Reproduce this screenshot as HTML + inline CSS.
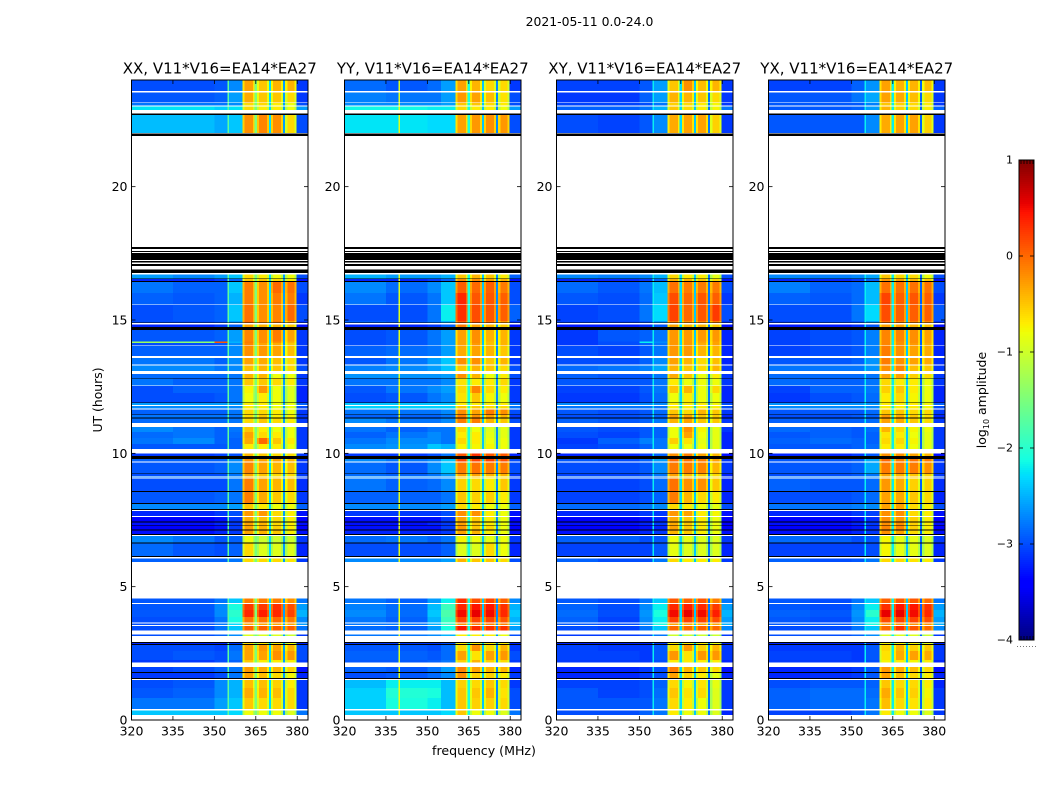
<!DOCTYPE html>
<html lang="en">
<head>
<meta charset="utf-8">
<title>2021-05-11 0.0-24.0 dynamic spectra</title>
<style>
html,body{margin:0;padding:0;background:#fff;}
svg{display:block;font-family:"DejaVu Sans","Liberation Sans",sans-serif;}
</style>
</head>
<body>
<svg id="figure" xmlns="http://www.w3.org/2000/svg" width="1050" height="800" viewBox="0 0 1050 800">
<rect width="1050" height="800" fill="#fff"/>
<text x="589.5" y="26" font-size="12.4" text-anchor="middle" fill="#000">2021-05-11 0.0-24.0</text>
<text x="484" y="755" font-size="12.6" text-anchor="middle" fill="#000">frequency (MHz)</text>
<text x="102" y="400" font-size="12.4" text-anchor="middle" fill="#000" transform="rotate(-90 102 400)">UT (hours)</text>
<text x="986" y="400" font-size="12.5" text-anchor="middle" fill="#000" transform="rotate(-90 986 400)">log<tspan font-size="8" dy="3">10</tspan><tspan dy="-3"> amplitude</tspan></text>
<g id="panels"></g>
<g id="colorbar"></g>
</svg>
<script>
/* ---------- data ---------- */
const panelTitles = ["XX, V11*V16=EA14*EA27","YY, V11*V16=EA14*EA27","XY, V11*V16=EA14*EA27","YX, V11*V16=EA14*EA27"];
const freqTicks = [320,335,350,365,380];
const utTicks = [0,5,10,15,20];
const colorbarTicks = [-4,-3,-2,-1,0,1];
/* frequency bin edges (MHz) for the nine values in each data row */
const binEdges = [320,335,350,355,360.2,365,370,375,379.8,383.9];
/* narrow low-sensitivity channels between sub-bands (MHz), one level per panel */
const gapChannels = [364.6,369.7,374.8];
const gapLevels = [[-1.5,-2.3,-2.6],[-2.1,-2.4,-2.7],[-2.3,-2.4,-2.8],[-2.2,-2.4,-2.9]];
/* band-edge channels of each sub-band: [start MHz, end MHz, row value index] */
const rolloffChannels = [[360.2,361,4],[363.9,364.6,4],[365.4,366.2,5],[369,369.7,5],[370.5,371.3,6],[374.1,374.8,6],[375.6,376.4,7],[379,379.8,7]];
const rolloffDrop = -0.35;
/* persistent interference channel per panel */
const lineChannels = [354.8,339.6,354.8,354.8];
const lineLevels = [-1.7,-0.9,-2.2,-2.2];
/* time rows: upper edges in UT hours and row kind: w = no data, k = zero amplitude, d = data */
const timeEdges = [0,.19,.35,.41,.825,1.2,1.5,1.54,1.58,1.76,1.8,1.99,2.15,2.25,2.59,2.81,2.85,2.89,2.93,3.15,3.21,3.35,3.53,3.57,3.62,3.66,3.86,4.13,4.35,4.39,4.56,5.93,6.06,6.12,6.15,6.61,6.65,6.9,6.94,6.98,7.11,7.14,7.29,7.32,7.41,7.44,7.61,7.65,7.84,7.88,7.91,8.1,8.14,8.55,8.59,9.06,9.1,9.13,9.15,9.23,9.25,9.65,9.69,9.78,9.9,10,10.16,10.35,10.58,10.8,10.98,11.14,11.31,11.34,11.44,11.46,11.65,11.69,11.78,11.81,11.89,11.91,12.26,12.53,12.55,12.8,12.83,12.98,13.09,13.3,13.33,13.58,13.65,14.03,14.05,14.14,14.19,14.63,14.73,14.84,14.88,14.9,14.97,15.56,15.59,16.01,16.43,16.47,16.53,16.56,16.7,16.77,16.89,17.03,17.1,17.15,17.21,17.25,17.51,17.55,17.59,17.66,17.73,21.9,21.99,22.01,22.69,22.74,22.88,23,23.04,23.13,23.16,23.54,23.59,24];
const rowKinds = ["w","d","w","d","d","d","w","k","d","k","d","w","d","d","d","k","d","k","w","d","w","d","w","d","w","d","d","d","w","d","w","d","w","k","d","k","d","w","k","d","k","d","k","d","k","d","w","d","w","k","d","k","d","k","d","w","d","w","d","k","d","w","d","k","d","w","d","d","d","d","w","d","k","d","k","d","w","d","w","d","k","d","d","w","d","k","d","w","d","w","d","w","d","w","d","d","d","k","d","w","k","d","d","w","d","d","k","d","k","d","w","k","w","k","w","k","w","k","w","k","w","k","w","k","w","d","k","w","d","w","d","w","d","w","d"];
/* log10 amplitude per data row: [320-335, 335-350, 350-355, 355-360, sub1, sub2, sub3, sub4, 380-384] */
const xxRows = [
[-2.4,-2.4,-2.4,-2.3,-.8,-.8,-.8,-.9,-2.8],
[-2.8,-2.8,-2.6,-2.4,-.5,-.6,-.6,-.6,-3.1],
[-2.95,-2.9,-2.7,-2.5,-.35,-.4,-.45,-.6,-3.1],
[-3,-2.95,-2.7,-2.5,-.45,-.45,-.55,-.7,-3.1],
[-3.1,-3.1,-3,-2.8,-.3,-.45,-.6,-.75,-3.2],
[-3.05,-3,-2.9,-2.8,-.25,-.35,-.4,-.55,-3.3],
[-3.1,-3.1,-3,-2.9,-.5,-.7,-.7,-.7,-3.1],
[-3,-2.95,-3,-2.8,-.3,-.3,-.2,-.25,-3],
[-3,-3,-3.05,-2.85,-.3,-.25,-.3,-.4,-3],
[-3.2,-3.2,-3.2,-3.1,-.6,-.7,-.7,-.8,-3.2],
[-3,-3,-2.9,-2.7,-.9,-.9,-.9,-1,-3.1],
[-3,-3,-2.8,-2.4,.05,.05,.05,.05,-2.8],
[-3,-3,-2.8,-2.3,-.3,-.3,-.3,-.3,-2.6],
[-3,-3,-2.8,-2.1,-.05,-.05,0,-.1,-2.7],
[-2.95,-2.95,-2.7,-2,.35,.4,.35,.2,-2.5],
[-2.95,-2.95,-2.7,-2.1,.25,.25,.3,.15,-2.6],
[-2.95,-2.95,-2.8,-2.4,-.1,-.1,-.1,-.2,-2.8],
[-2.9,-2.9,-2.9,-2.8,-.6,-.6,-.6,-.65,-3.1],
[-2.85,-2.95,-3,-2.9,-.6,-.9,-.9,-.9,-3.2],
[-2.7,-2.8,-2.95,-2.9,-.8,-1,-1,-1,-3.1],
[-3.3,-3.3,-3.2,-3.1,-.3,-.4,-.5,-.7,-3.3],
[-3.4,-3.4,-3.3,-3.1,-.3,-.4,-.55,-.7,-3.4],
[-3.3,-3.3,-3.2,-3.1,-.3,-.4,-.6,-.7,-3.3],
[-3.4,-3.4,-3.3,-3.1,-.35,-.45,-.6,-.7,-3.4],
[-3.2,-3.2,-3.1,-3,-.25,-.25,-.6,-.7,-3.3],
[-2.7,-2.7,-2.7,-2.6,-.5,-.7,-.8,-.8,-2.9],
[-2.95,-2.95,-2.9,-2.8,-.1,-.35,-.5,-.6,-3.1],
[-3,-3,-3,-2.8,-.1,-.3,-.4,-.45,-3.15],
[-2.8,-2.8,-2.8,-2.7,-.4,-.5,-.6,-.6,-3],
[-3,-3,-3,-2.8,-.35,-.5,-.6,-.6,-3.1],
[-2.95,-2.95,-2.9,-2.7,-.15,-.3,-.4,-.45,-3.1],
[-2.9,-2.9,-2.9,-2.7,-.2,-.3,-.3,-.4,-3.1],
[-3.1,-3.1,-3.05,-3,-.4,-.5,-.6,-.6,-3.1],
[-2.95,-2.95,-2.95,-2.9,-.7,-.7,-.7,-.8,-3.1],
[-2.8,-2.7,-2.9,-2.9,-.35,0,-.5,-.7,-3.1],
[-2.85,-2.8,-2.9,-2.85,-.3,-.6,-.7,-.8,-3.1],
[-2.7,-2.8,-2.9,-2.8,-.5,-.7,-.8,-.8,-3.1],
[-2.85,-2.85,-2.85,-2.8,-.6,-.5,-.6,-.7,-3.1],
[-2.8,-2.8,-2.8,-2.8,-.6,-.5,-.7,-.7,-3.1],
[-2.9,-2.9,-2.9,-2.8,-.6,-.6,-.7,-.8,-3.1],
[-2.7,-2.7,-2.7,-2.7,-.7,-.7,-.8,-.8,-3],
[-2.6,-2.6,-2.6,-2.6,-.7,-.7,-.8,-.8,-2.9],
[-3,-3,-2.95,-2.8,-.8,-.7,-.8,-.9,-3.2],
[-3,-2.9,-2.9,-2.8,-.75,-.25,-.8,-.9,-3.2],
[-2.8,-2.9,-2.9,-2.8,-.5,-.5,-.6,-.7,-3.1],
[-2.85,-2.85,-2.85,-2.8,-.4,-.4,-.8,-.8,-3.1],
[-2.7,-2.7,-2.8,-2.7,-.45,-.4,-.5,-.6,-3],
[-2.8,-2.8,-2.9,-2.7,-.3,-.35,-.45,-.6,-3.1],
[-2.9,-2.9,-2.9,-2.7,-.2,-.25,-.3,-.45,-3.1],
[-3,-3,-2.95,-2.7,-.15,-.3,-.35,-.5,-3.1],
[-1.3,-1.4,.1,-2.5,-.1,-.2,-.2,-.4,-3.1],
[-2.95,-2.95,-2.9,-2.6,-.15,-.2,-.1,-.3,-3.1],
[-3.2,-3.2,-3.1,-2.9,-.3,-.4,-.4,-.5,-3.3],
[-3,-3,-2.95,-2.6,0,-.2,-.1,-.3,-3.1],
[-3,-2.95,-2.9,-2.4,-.05,-.2,-.15,0,-3],
[-2.9,-2.95,-2.9,-2.5,-.1,-.2,-.1,-.1,-3.1],
[-2.8,-2.9,-2.9,-2.4,-.1,-.2,0,-.05,-3],
[-3.2,-3.2,-3.1,-2.9,-.5,-.5,-.6,-.7,-3.3],
[-2.6,-2.7,-2.6,-2.4,-.6,-.7,-.8,-.8,-3],
[-2.45,-2.45,-2.55,-2.4,-.2,-.15,-.2,-.6,-3],
[-2.25,-2.25,-2.35,-2.25,-.6,-.7,-.7,-.8,-2.6],
[-2.8,-2.8,-2.8,-2.7,-.6,-.6,-.7,-.8,-3],
[-2.95,-2.95,-2.9,-2.6,-.35,-.5,-.5,-.6,-3.1],
[-3,-3,-2.95,-2.7,-.3,-.5,-.4,-.4,-3.1]
];
const yyRows = [
[-2.4,-2.4,-2.4,-2.3,-.5,-.8,-.8,-.9,-2.8],
[-2.35,-2.1,-2.2,-2.45,-.5,-.55,-.55,-.6,-3],
[-2.35,-2.05,-2.1,-2.45,-.5,-.5,-.4,-.65,-3],
[-2.45,-2.2,-2.2,-2.45,-.55,-.6,-.5,-.6,-3.1],
[-3,-2.95,-2.85,-2.7,-.2,-.55,-.55,-.7,-3.1],
[-2.9,-2.95,-2.8,-2.6,-.15,-.3,-.4,-.4,-3.2],
[-2.95,-2.95,-2.9,-2.8,-.55,-.4,-.55,-.6,-3.1],
[-2.9,-2.9,-2.95,-2.85,-.3,-.65,-.3,-.25,-3],
[-2.95,-2.95,-3,-2.85,-.6,-.2,-.6,-.4,-3.1],
[-3.1,-3.1,-3.1,-3,-.7,-.7,-.7,-.7,-3.2],
[-2.8,-2.8,-2.7,-2.5,-.7,-.7,-.7,-.8,-3],
[-2.85,-2.9,-2.6,-2.1,.45,.35,.3,.3,-2.6],
[-2.8,-2.8,-2.5,-2,-.2,-.1,-.1,-.1,-2.4],
[-2.8,-2.9,-2.5,-1.9,.2,.2,.2,.1,-2.5],
[-2.7,-2.85,-2.4,-1.8,.5,.55,.5,.35,-2.4],
[-2.75,-2.85,-2.45,-1.9,.35,.45,.45,.3,-2.5],
[-2.8,-2.9,-2.6,-2.2,.3,.15,.2,.05,-2.7],
[-2.7,-2.7,-2.7,-2.6,-.4,-.5,-.5,-.6,-3],
[-3,-3,-3,-2.9,-.9,-.9,-.6,-.8,-3.2],
[-2.85,-2.8,-2.9,-2.8,-.75,-.8,-.85,-.8,-3.1],
[-3.2,-3.2,-3.2,-3.1,-.3,-.4,-.7,-.8,-3.3],
[-3.3,-3.3,-3.3,-3.1,-.25,-.5,-.6,-.8,-3.4],
[-3.3,-3.3,-3.2,-3.1,-.3,-.5,-.7,-.8,-3.3],
[-3.3,-3.3,-3.3,-3.1,-.3,-.5,-.7,-.8,-3.4],
[-3.1,-3.1,-3.1,-3,-.2,-.2,-.7,-.8,-3.3],
[-2.7,-2.7,-2.7,-2.6,-.6,-.7,-.8,-.8,-2.9],
[-2.9,-2.9,-2.9,-2.8,-.5,-.55,-.55,-.7,-3.1],
[-2.8,-2.9,-2.85,-2.7,-.55,-.6,-.7,-.5,-3.1],
[-2.7,-2.7,-2.7,-2.6,-.5,-.5,-.6,-.6,-3],
[-2.85,-2.9,-2.8,-2.6,-.3,-.3,-.4,-.4,-3.1],
[-2.85,-2.95,-2.7,-2.4,-.1,-.05,-.1,-.1,-3],
[-2.7,-2.8,-2.7,-2.4,.2,.2,.2,.15,-3],
[-3.1,-3.1,-3,-2.8,.1,.3,.1,.1,-3.2],
[-2.7,-2.65,-2.4,-2.5,-.75,-.75,-.75,-.8,-3.1],
[-2.8,-2.7,-2.7,-2.8,-.6,-.7,-.8,-.8,-3.1],
[-2.9,-2.8,-2.7,-2.8,-.7,-.7,-.85,-.85,-3.1],
[-2.8,-2.9,-2.8,-2.8,-.6,-.8,-.9,-.85,-3.1],
[-2.7,-2.8,-2.8,-2.7,-.1,-.1,-.4,-.5,-3],
[-2.9,-2.9,-2.9,-2.8,-.1,-.2,-.3,-.4,-3.1],
[-2.8,-2.8,-2.8,-2.7,-.2,-.3,-.1,-.2,-3],
[-2.35,-2.35,-2.35,-2.35,-.5,-.5,-.6,-.6,-2.8],
[-2.4,-2.4,-2.4,-2.4,-.7,-.7,-.7,-.7,-2.8],
[-3,-2.95,-2.8,-2.7,-.65,-.5,-.75,-.8,-3.1],
[-2.95,-2.8,-2.7,-2.6,-.6,-.15,-.6,-.7,-3.1],
[-2.8,-2.8,-2.8,-2.7,-.65,-.7,-.7,-.6,-3.1],
[-2.65,-2.65,-2.65,-2.6,-.2,-.4,-.8,-.7,-3],
[-2.75,-2.7,-2.6,-2.4,-.5,-.4,-.5,-.6,-3],
[-2.95,-2.8,-2.6,-2.4,-.2,-.2,-.5,-.4,-3.1],
[-2.9,-2.85,-2.8,-2.6,-.35,-.3,-.4,-.5,-3.1],
[-3,-2.95,-2.8,-2.6,-.3,-.25,-.45,-.4,-3.1],
[-3,-2.95,-2.8,-2.6,-.3,-.2,-.45,-.4,-3.1],
[-3,-2.95,-2.8,-2.6,-.3,-.2,-.4,-.4,-3.1],
[-3.2,-3.2,-3.1,-2.9,-.1,-.3,-.4,-.5,-3.3],
[-2.9,-2.95,-2.8,-2.5,.1,.1,0,-.2,-3.1],
[-3,-3,-2.8,-2.2,.3,.15,.1,.05,-2.9],
[-2.8,-2.95,-2.8,-2.4,.35,.1,.1,.05,-3],
[-2.7,-2.85,-2.7,-2.4,.05,0,.05,-.1,-3],
[-3.2,-3.2,-3.1,-2.9,-.2,-.2,-.3,-.4,-3.3],
[-2.5,-2.6,-2.6,-2.5,-.5,-.4,-.5,-.7,-2.9],
[-2.25,-2.25,-2.3,-2.3,-.3,-.25,-.2,-.25,-3],
[-2.15,-2.15,-2.2,-2.2,-.6,-.7,-.7,-.8,-2.6],
[-2.7,-2.7,-2.7,-2.6,-.5,-.5,-.6,-.7,-3],
[-2.75,-2.8,-2.8,-2.6,-.25,-.3,-.45,-.65,-3],
[-2.85,-2.95,-2.85,-2.6,-.3,-.4,-.6,-.6,-3.1]
];
const xyRows = [
[-3,-3,-2.9,-2.8,-.7,-.8,-.8,-.9,-3.2],
[-2.95,-2.95,-2.95,-2.8,-.6,-.7,-.8,-.9,-3.1],
[-2.95,-3.05,-3,-2.85,-.5,-.65,-.6,-.9,-3.1],
[-3.05,-3.05,-3,-2.9,-.6,-.75,-.65,-.85,-3.1],
[-3.2,-3.2,-3.1,-3,-.3,-.55,-.7,-.85,-3.2],
[-3.2,-3.2,-3.1,-3,-.1,-.4,-.5,-.6,-3.3],
[-3.1,-3.1,-3.1,-3,-.7,-.7,-.7,-.7,-3.2],
[-3.05,-3.05,-3.1,-2.95,-.25,-.65,-.25,-.25,-3.1],
[-3.05,-3.1,-3.1,-2.95,-.6,-.25,-.55,-.4,-3.1],
[-3.2,-3.2,-3.2,-3.1,-.7,-.7,-.7,-.8,-3.2],
[-3.1,-3.1,-3,-2.8,-1,-1,-1,-1,-3.1],
[-3,-3.05,-2.8,-2.4,0,0,.05,0,-2.7],
[-2.95,-3,-2.7,-2.1,-.3,-.3,-.3,-.3,-2.5],
[-2.9,-3.05,-2.7,-2.2,.2,.2,.2,.15,-2.6],
[-2.85,-3,-2.65,-2.1,.5,.55,.5,.4,-2.5],
[-2.9,-3,-2.7,-2.2,.35,.4,.35,.25,-2.6],
[-2.95,-3,-2.8,-2.4,.1,.05,.1,-.1,-2.8],
[-2.9,-3,-3,-2.8,-.6,-.7,-.7,-.7,-3.1],
[-3.05,-3.05,-3.05,-2.95,-.85,-.9,-.9,-.9,-3.2],
[-2.9,-2.9,-3,-2.95,-.8,-.85,-.9,-.9,-3.1],
[-3.3,-3.3,-3.2,-3.1,-.4,-.5,-.7,-.8,-3.3],
[-3.4,-3.4,-3.3,-3.2,-.3,-.5,-.7,-.8,-3.4],
[-3.3,-3.3,-3.2,-3.1,-.35,-.5,-.7,-.8,-3.4],
[-3.4,-3.4,-3.3,-3.2,-.35,-.5,-.7,-.8,-3.4],
[-3.2,-3.2,-3.1,-3.1,-.25,-.3,-.7,-.75,-3.3],
[-2.85,-2.85,-2.8,-2.7,-.6,-.7,-.8,-.85,-3],
[-3.05,-3.05,-3,-2.9,-.1,-.4,-.6,-.7,-3.2],
[-3.05,-3.05,-3,-2.85,-.05,-.2,-.2,-.5,-3.2],
[-2.9,-2.9,-2.9,-2.8,-.4,-.5,-.6,-.6,-3.1],
[-3.05,-3.05,-3,-2.8,-.3,-.45,-.5,-.6,-3.2],
[-3,-3,-2.95,-2.7,-.1,-.1,-.15,-.4,-3.1],
[-2.95,-3,-2.9,-2.6,0,-.05,-.1,-.3,-3.1],
[-3.2,-3.2,-3.1,-2.9,-.2,-.1,-.3,-.4,-3.3],
[-3.05,-3,-2.9,-2.8,-.8,-.8,-.8,-.85,-3.2],
[-3.1,-2.9,-2.75,-2.8,-.55,-.65,-.85,-.85,-3.2],
[-3,-3.05,-2.95,-2.9,-.8,-.3,-.8,-.85,-3.2],
[-2.95,-3,-2.95,-2.9,-.8,-.2,-.75,-.85,-3.1],
[-2.9,-2.95,-2.9,-2.8,-.4,-.3,-.5,-.5,-3.1],
[-3,-3,-2.95,-2.9,-.3,-.3,-.5,-.5,-3.2],
[-2.95,-3,-2.95,-2.85,-.5,-.6,-.4,-.5,-3.1],
[-2.8,-2.8,-2.8,-2.8,-.7,-.7,-.7,-.7,-3],
[-2.7,-2.7,-2.7,-2.7,-.7,-.7,-.7,-.75,-3],
[-3.1,-3.1,-3,-2.85,-.8,-.7,-.8,-.8,-3.2],
[-3.05,-3.05,-2.95,-2.8,-.5,-.4,-.8,-.6,-3.2],
[-2.95,-2.95,-2.95,-2.8,-.7,-.8,-.8,-.8,-3.1],
[-2.9,-2.95,-2.95,-2.8,-.35,-.5,-.8,-.7,-3.1],
[-2.85,-2.8,-2.75,-2.55,-.4,-.5,-.6,-.4,-3.1],
[-3,-3,-2.9,-2.7,-.3,-.4,-.6,-.45,-3.2],
[-3,-3.05,-2.95,-2.8,-.25,-.25,-.4,-.4,-3.2],
[-3.1,-3,-2.9,-2.8,-.25,-.25,-.35,-.3,-3.2],
[-3.1,-3,-2.2,-2.7,-.25,-.25,-.3,-.3,-3.2],
[-3.1,-2.95,-2.9,-2.8,-.25,-.25,-.25,-.25,-3.2],
[-3.25,-3.25,-3.15,-2.95,-.3,-.4,-.4,-.5,-3.3],
[-3.05,-3.05,-2.95,-2.6,-.05,-.2,-.1,-.1,-3.1],
[-3.05,-3,-2.8,-2.3,.2,0,.1,.25,-3],
[-2.95,-3,-2.85,-2.4,.15,0,.1,.05,-3.1],
[-2.85,-2.95,-2.8,-2.45,-.05,-.1,-.1,-.1,-3],
[-3.2,-3.2,-3.1,-2.9,-.4,-.4,-.5,-.6,-3.3],
[-2.7,-2.75,-2.7,-2.5,-.6,-.7,-.7,-.85,-3],
[-3,-3.05,-2.95,-2.7,-.35,-.3,-.3,-.55,-3.1],
[-2.9,-2.9,-2.8,-2.5,-.5,-.6,-.7,-.75,-2.8],
[-3.05,-3.05,-3,-2.8,-.55,-.6,-.7,-.75,-3.1],
[-3.1,-3.1,-2.9,-2.6,-.4,-.4,-.5,-.6,-3.1],
[-3.05,-3.05,-2.95,-2.6,-.5,-.2,-.45,-.4,-3.1]
];
const yxRows = [
[-3.05,-3.05,-2.95,-2.8,-.7,-.8,-.8,-.9,-3.1],
[-2.9,-2.85,-2.85,-2.8,-.45,-.6,-.65,-.7,-3.1],
[-2.9,-2.85,-2.85,-2.85,-.35,-.5,-.55,-.75,-3.1],
[-3,-2.95,-2.95,-2.9,-.5,-.6,-.6,-.7,-3.2],
[-3.2,-3.15,-3.1,-2.95,-.3,-.45,-.6,-.7,-3.2],
[-3.2,-3.15,-3.1,-2.95,-.25,-.35,-.45,-.6,-3.3],
[-3.1,-3.1,-3.1,-3,-.75,-.7,-.75,-.7,-3.2],
[-3.05,-3.05,-3.1,-2.95,-.65,-.35,-.3,-.35,-3.1],
[-3.1,-3.1,-3.1,-2.95,-.6,-.4,-.55,-.5,-3.1],
[-3.2,-3.2,-3.2,-3.1,-.75,-.75,-.75,-.8,-3.2],
[-3,-3,-2.9,-2.7,-.9,-.9,-.9,-1,-3.1],
[-3,-3,-2.8,-2.4,0,.3,.1,0,-2.7],
[-2.95,-2.95,-2.7,-2.1,-.25,-.2,-.2,-.2,-2.5],
[-2.95,-3,-2.7,-2.2,.15,.2,.2,.15,-2.6],
[-2.9,-2.95,-2.65,-2,.55,.55,.5,.35,-2.5],
[-2.95,-3,-2.7,-2.2,.3,.45,.45,.3,-2.6],
[-2.95,-3,-2.8,-2.4,.05,.1,.1,0,-2.8],
[-2.9,-3,-2.95,-2.8,-.6,-.6,-.65,-.7,-3.1],
[-3.05,-3.05,-3.05,-3,-.75,-.85,-.85,-.9,-3.2],
[-2.85,-2.9,-3,-2.95,-.75,-.85,-.85,-.9,-3.1],
[-3.3,-3.3,-3.2,-3.1,-.2,-.3,-.6,-.7,-3.3],
[-3.4,-3.4,-3.3,-3.15,-.15,-.15,-.55,-.7,-3.4],
[-3.3,-3.3,-3.2,-3.1,-.2,-.2,-.55,-.7,-3.3],
[-3.4,-3.4,-3.3,-3.15,-.2,-.25,-.55,-.7,-3.4],
[-3.2,-3.2,-3.1,-3.05,-.2,-.2,-.6,-.7,-3.3],
[-2.8,-2.8,-2.75,-2.7,-.3,-.3,-.6,-.7,-3],
[-3,-3,-2.95,-2.85,-.3,-.35,-.5,-.6,-3.2],
[-2.9,-2.95,-2.95,-2.85,-.25,-.35,-.55,-.55,-3.15],
[-2.8,-2.8,-2.8,-2.7,-.4,-.4,-.5,-.6,-3],
[-3,-3,-2.95,-2.8,-.3,-.4,-.5,-.55,-3.1],
[-2.95,-2.95,-2.9,-2.55,-.1,-.1,-.1,-.2,-3.1],
[-2.95,-2.95,-2.9,-2.55,0,-.1,-.05,-.1,-3.1],
[-3.2,-3.2,-3.1,-2.95,-.2,-.2,-.3,-.4,-3.3],
[-2.95,-2.95,-2.9,-2.85,-.7,-.7,-.8,-.85,-3.1],
[-2.9,-2.85,-2.9,-2.9,-.6,-.6,-.75,-.85,-3.1],
[-2.95,-2.9,-2.95,-2.9,-.65,-.7,-.8,-.85,-3.1],
[-2.85,-2.9,-2.95,-2.85,-.4,-.6,-.75,-.8,-3.1],
[-2.9,-2.9,-2.9,-2.85,-.3,-.35,-.5,-.6,-3.1],
[-3,-3,-2.95,-2.9,-.25,-.35,-.5,-.6,-3.2],
[-2.95,-2.95,-2.95,-2.85,-.5,-.5,-.6,-.6,-3.1],
[-2.7,-2.7,-2.7,-2.7,-.7,-.7,-.7,-.75,-3],
[-2.65,-2.65,-2.65,-2.65,-.7,-.7,-.7,-.75,-2.9],
[-3.1,-3,-2.95,-2.85,-.7,-.6,-.75,-.8,-3.2],
[-3.05,-2.9,-2.9,-2.8,-.55,-.5,-.7,-.8,-3.2],
[-2.85,-2.9,-2.9,-2.8,-.6,-.7,-.7,-.8,-3.1],
[-2.85,-2.85,-2.85,-2.8,-.3,-.3,-.55,-.6,-3.1],
[-2.8,-2.8,-2.8,-2.65,-.2,-.15,-.45,-.5,-3.1],
[-2.95,-2.95,-2.9,-2.65,-.1,-.2,-.3,-.35,-3.15],
[-3.05,-3,-2.95,-2.75,-.1,-.2,-.3,-.35,-3.2],
[-3.05,-3,-2.95,-2.75,-.15,-.2,-.25,-.35,-3.2],
[-3.05,-3,-2.95,-2.75,-.15,-.2,-.2,-.3,-3.2],
[-3.05,-3,-2.95,-2.75,-.15,-.15,-.2,-.3,-3.2],
[-3.25,-3.25,-3.15,-2.95,-.3,-.3,-.4,-.45,-3.3],
[-3.05,-3,-2.95,-2.6,0,-.1,-.1,-.15,-3.1],
[-3,-3,-2.8,-2.3,.15,.05,.05,.05,-2.95],
[-2.9,-2.95,-2.85,-2.45,.2,.05,.1,.05,-3.1],
[-2.75,-2.9,-2.85,-2.45,-.05,-.05,-.05,-.05,-3],
[-3.2,-3.2,-3.1,-2.9,-.25,-.3,-.4,-.5,-3.3],
[-2.7,-2.75,-2.7,-2.55,-.5,-.6,-.6,-.8,-3],
[-2.95,-2.95,-2.95,-2.7,-.35,-.3,-.3,-.55,-3.1],
[-2.95,-2.95,-2.9,-2.6,-.4,-.55,-.6,-.7,-2.9],
[-2.95,-2.95,-2.95,-2.75,-.5,-.55,-.6,-.7,-3.1],
[-2.95,-2.95,-2.8,-2.55,-.3,-.35,-.45,-.6,-3.1],
[-3.05,-3.05,-2.9,-2.65,-.3,-.4,-.4,-.45,-3.1]
];
const panelRows = [xxRows,yyRows,xyRows,yxRows];
/* jet colormap control points: [position, value] */
const jetRed = [[0,0],[.35,0],[.66,1],[.89,1],[1,.5]];
const jetGreen = [[0,0],[.125,0],[.375,1],[.64,1],[.91,0],[1,0]];
const jetBlue = [[0,.5],[.11,1],[.34,1],[.65,0],[1,0]];

/* ---------- layout ---------- */
const NS = "http://www.w3.org/2000/svg";
const panelLefts = [131.5,344.5,556.5,768.5];
const panelWidth = 176.5, axisTop = 80, axisBottom = 720;
const freqMin = 320, freqMax = 383.9, utMin = 0, utMax = 24, levelMin = -4, levelMax = 1;
const barLeft = 1019, barRight = 1034, barTop = 160, barBottom = 640;

function mk(tag, attrs, parent, txt){
  const el = document.createElementNS(NS, tag);
  for (const k in attrs) el.setAttribute(k, attrs[k]);
  if (txt !== undefined) el.textContent = txt;
  parent.appendChild(el);
  return el;
}
function freqX(f, p){ return panelLefts[p] + (f - freqMin) / (freqMax - freqMin) * panelWidth; }
function utY(u){ return axisBottom - (u - utMin) / (utMax - utMin) * (axisBottom - axisTop); }
function levelY(v){ return barBottom - (v - levelMin) / (levelMax - levelMin) * (barBottom - barTop); }
function seg(points, t){
  for (let i = 1; i < points.length; i++) {
    if (t <= points[i][0]) {
      const a = points[i-1], b = points[i];
      return a[1] + (t - a[0]) / (b[0] - a[0]) * (b[1] - a[1]);
    }
  }
  return points[points.length-1][1];
}
function jet(v){
  const t = Math.max(0, Math.min(1, (v - levelMin) / (levelMax - levelMin)));
  const c = [jetRed, jetGreen, jetBlue].map(function(s){ return Math.round(seg(s, t) * 255); });
  return "rgb(" + c.join(",") + ")";
}
function cell(parent, x0, x1, y0, y1, fill){
  const r = mk("rect", {x:x0, y:y0, width:x1-x0, height:y1-y0, fill:fill, "shape-rendering":"crispEdges"}, parent);
  
  
  return r;
}

/* ---------- panels ---------- */
const panelsRoot = document.getElementById("panels");
panelTitles.forEach(function(title, p){
  const g = mk("g", {}, panelsRoot);
  
  
  const xa = freqX(freqMin, p), xb = freqX(freqMax, p);

  let dataIndex = 0;
  rowKinds.forEach(function(kind, i){
    const y0 = utY(timeEdges[i+1]), y1 = utY(timeEdges[i]);
    if (kind === "k") { cell(g, xa, xb, y0, y1, "#000"); return; }
    if (kind !== "d") return;
    const row = panelRows[p][dataIndex++];
    row.forEach(function(v, b){
      cell(g, freqX(binEdges[b], p), freqX(binEdges[b+1], p), y0, y1, jet(v));
    });
    rolloffChannels.forEach(function(ch){
      cell(g, freqX(ch[0], p), freqX(ch[1], p), y0, y1, jet(row[ch[2]] + rolloffDrop));
    });
    gapChannels.forEach(function(ch, c){
      cell(g, freqX(ch, p), freqX(ch + 0.8, p), y0, y1, jet(gapLevels[p][c]));
    });
    cell(g, freqX(lineChannels[p], p), freqX(lineChannels[p] + 0.5, p), y0, y1, jet(lineLevels[p]));
  });

  freqTicks.forEach(function(f){
    const x = freqX(f, p);
    const t1 = mk("line", {x1:x, x2:x, y1:axisBottom, y2:axisBottom-4, stroke:"#000", "stroke-width":0.8}, g);
    
    
    const t2 = mk("line", {x1:x, x2:x, y1:axisTop, y2:axisTop+4, stroke:"#000", "stroke-width":0.8}, g);
    
    
    const l = mk("text", {x:x, y:735.5, "font-size":12.5, "text-anchor":"middle", fill:"#000"}, g, String(f));
    
    
  });
  utTicks.forEach(function(u){
    const y = utY(u);
    const t1 = mk("line", {x1:xa, x2:xa+4, y1:y, y2:y, stroke:"#000", "stroke-width":0.8}, g);
    
    
    const t2 = mk("line", {x1:xb, x2:xb-4, y1:y, y2:y, stroke:"#000", "stroke-width":0.8}, g);
    
    
    const l = mk("text", {x:xa-4, y:y+4.5, "font-size":12.5, "text-anchor":"end", fill:"#000"}, g, String(u));
    
    
  });
  const frame = mk("rect", {x:xa, y:axisTop, width:panelWidth, height:axisBottom-axisTop, fill:"none", stroke:"#000", "stroke-width":1}, g);
  
  
  const ti = mk("text", {x:xa+panelWidth/2, y:73.5, "font-size":15, "text-anchor":"middle", fill:"#000"}, g, title);
  
  
});

/* ---------- colorbar ---------- */
const barRoot = document.getElementById("colorbar");
for (let i = 0; i < 240; i++) {
  const lo = levelMin + i / 240 * (levelMax - levelMin);
  const hi = levelMin + (i + 1) / 240 * (levelMax - levelMin);
  const s = mk("rect", {x:barLeft, y:levelY(hi), width:barRight-barLeft, height:levelY(lo)-levelY(hi), fill:jet((lo+hi)/2), "shape-rendering":"crispEdges"}, barRoot);
  
  
}
colorbarTicks.forEach(function(v){
  const y = levelY(v);
  if (v > levelMin && v < levelMax) {
    const t1 = mk("line", {x1:barLeft, x2:barLeft+4, y1:y, y2:y, stroke:"#000", "stroke-width":0.8}, barRoot);
    
    
    const t2 = mk("line", {x1:barRight, x2:barRight-4, y1:y, y2:y, stroke:"#000", "stroke-width":0.8}, barRoot);
    
    
  }
  const l = mk("text", {x:1013, y:y+3.5, "font-size":11, "text-anchor":"end", fill:"#000"}, barRoot, (v < 0 ? "\u2212" + (-v) : String(v)));
  
  
});
for (let x = barLeft + 2; x < barRight; x += 3) {
  const e1 = mk("line", {x1:x, x2:x, y1:barTop, y2:barTop+4, stroke:"#000", "stroke-width":0.8}, barRoot);
  
  
  const e2 = mk("line", {x1:x, x2:x, y1:barBottom, y2:barBottom-4, stroke:"#000", "stroke-width":0.8}, barRoot);
  
  
}
const barFrame = mk("rect", {x:barLeft, y:barTop, width:barRight-barLeft, height:barBottom-barTop, fill:"none", stroke:"#000", "stroke-width":1}, barRoot);


const barDots = mk("line", {x1:1017, x2:1036, y1:646.5, y2:646.5, stroke:"#777", "stroke-width":1, "stroke-dasharray":"1 2"}, barRoot);


</script>
</body>
</html>
